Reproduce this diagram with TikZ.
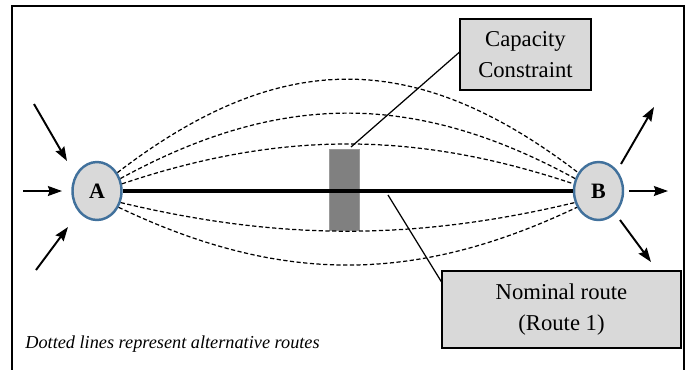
\documentclass[tikz,border=0pt]{standalone}
\usepackage{fontspec}
\setmainfont{Liberation Serif}
\usepackage{tikz}
\usetikzlibrary{arrows.meta, shapes.geometric}
\definecolor{ring}{RGB}{65, 113, 156}
\definecolor{lite}{RGB}{217, 217, 217}
\definecolor{bar}{RGB}{128, 128, 128}

\begin{document}
\begin{tikzpicture}[
    x=0.02cm, y=-0.02cm,
    >={Stealth[length=8pt, width=5.6pt, inset=1pt]},
    stop/.style={ellipse, draw=ring, fill=lite, line width=1.4pt,
      minimum width=0.98cm, minimum height=1.16cm, inner sep=0pt,
      font=\fontsize{12.5}{14}\selectfont\bfseries},
    note/.style={rectangle, draw=black, fill=lite, line width=0.7pt,
      inner sep=0pt, align=center, font=\fontsize{12.9}{17.5}\selectfont},
    alt/.style={dash pattern=on 2.4pt off 1.4pt, line width=0.7pt},
    flow/.style={->, line width=1.1pt},
    lead/.style={line width=0.7pt}
  ]
  \useasboundingbox (0,0) rectangle (696,369);
  \draw[line width=1.1pt] (12,6) rectangle (684,420);

  % capacity bar behind the route
  \node[rectangle, fill=bar, draw=bar!80, line width=0.4pt, inner sep=0pt,
    minimum width=0.6cm, minimum height=1.62cm] (cbar) at (344,189.5) {};

  \node[stop] (A) at (97,191) {A};
  \node[stop] (B) at (598.5,191) {B};

  % alternative routes
  \foreach \a/\b/\h in {42/138/48, 28/152/91.3, 16/164/130.7,
                        -26/206/240.7, -37/217/284.3} {
    \draw[alt] (A.\a) .. controls (280,\h) and (415,\h) .. (B.\b);
  }

  % nominal route
  \draw[line width=2.8pt] (A) -- (B);

  % in and out flows
  \foreach \s/\t in {{-63,-87}/{-30,-30}, {-74,0}/{-35,0}, {-61,79}/{-29,36}} {
    \draw[flow] ([shift={(\s)}]A.center) -- ([shift={(\t)}]A.center);
  }
  \foreach \s/\t in {{22.5,-27}/{55.5,-84}, {30.5,0}/{69.5,0}, {21.5,29}/{52.5,71}} {
    \draw[flow] ([shift={(\s)}]B.center) -- ([shift={(\t)}]B.center);
  }

  % labels
  \node[note, minimum width=2.62cm, minimum height=1.42cm] (cap) at (525.5,54.5)
    {Capacity\\Constraint};
  \node[note, minimum width=4.78cm, minimum height=1.54cm] (nom) at (561.5,309.5)
    {Nominal route\\(Route 1)};
  \coordinate (captop) at (351,147);
  \coordinate (onroute) at (388,195);
  \draw[lead] (cap.178) -- (captop);
  \draw[lead] (nom.167) -- (onroute);

  \node[anchor=base west, inner sep=0pt, font=\fontsize{10.4}{12}\selectfont\itshape]
    (key) at (25,348) {Dotted lines represent alternative routes};
\end{tikzpicture}
\end{document}
